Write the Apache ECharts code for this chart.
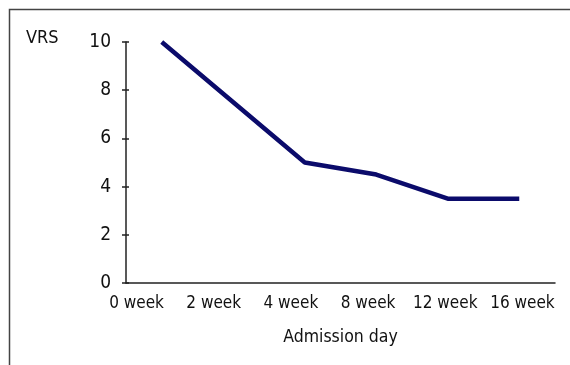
<!DOCTYPE html>
<html>
<head>
<meta charset="utf-8">
<script src="https://cdn.jsdelivr.net/npm/echarts@6/dist/echarts.min.js"></script>
<style>html,body{margin:0;padding:0;background:#fff}#c{width:570px;height:365px}</style>
</head>
<body>
<div id="c"></div>
<script>
const categories = ['0 week', '2 week', '4 week', '8 week', '12 week', '16 week'];
const vrsValues = [10, 7.5, 5, 4.5, 3.5, 3.5];
const yTicks = [0, 2, 4, 6, 8, 10];
const yTitle = 'VRS';
const xTitle = 'Admission day';

const font = '"DejaVu Sans Condensed", "Liberation Sans", Arial, sans-serif';
const chart = echarts.init(document.getElementById('c'), null, {renderer: 'canvas'});
chart.setOption({
  animation: false,
  backgroundColor: '#fff',
  title: {text: yTitle, left: 26, top: 29, padding: 0,
    textStyle: {fontFamily: font, fontSize: 18, fontWeight: 'normal', color: '#111'}},
  graphic: [{type: 'rect', shape: {x: 9.5, y: 9.5, width: 700, height: 500},
    style: {fill: null, stroke: '#444', lineWidth: 1.5}, silent: true}],
  grid: [
    {left: 126, right: 15, top: 42, bottom: 82},
    {left: 98, right: 9, top: 42, bottom: 82}
  ],
  xAxis: [
    {gridIndex: 0, type: 'category', data: categories, boundaryGap: true,
      axisLine: {lineStyle: {color: '#222', width: 1.5}},
      axisTick: {show: false}, axisLabel: {show: false},
      name: xTitle, nameLocation: 'middle', nameGap: 45,
      nameTextStyle: {fontFamily: font, fontSize: 17.5, color: '#111'}},
    {gridIndex: 1, type: 'category', data: categories, boundaryGap: true,
      axisLine: {show: false}, axisTick: {show: false},
      axisLabel: {fontFamily: font, fontSize: 17, color: '#111', margin: 12, interval: 0}}
  ],
  yAxis: [
    {gridIndex: 0, type: 'value', min: yTicks[0], max: yTicks[yTicks.length - 1], interval: 2,
      axisLine: {show: true, lineStyle: {color: '#222', width: 1.5}},
      axisTick: {show: true, length: 4, lineStyle: {color: '#222', width: 1.5}},
      splitLine: {show: false},
      axisLabel: {fontFamily: font, fontSize: 19, color: '#111', margin: 15}},
    {gridIndex: 0, type: 'value', min: yTicks[0], max: yTicks[yTicks.length - 1], interval: 2,
      position: 'left', axisLine: {show: false},
      axisTick: {show: true, inside: true, length: 3, lineStyle: {color: '#222', width: 1.5}},
      splitLine: {show: false}, axisLabel: {show: false}},
    {gridIndex: 1, type: 'value', min: 0, max: 10, show: false}
  ],
  series: [{
    type: 'line', xAxisIndex: 0, yAxisIndex: 0, data: vrsValues,
    symbol: 'none', lineStyle: {color: '#0b0b6b', width: 4.5}
  }]
});
</script>
</body>
</html>
